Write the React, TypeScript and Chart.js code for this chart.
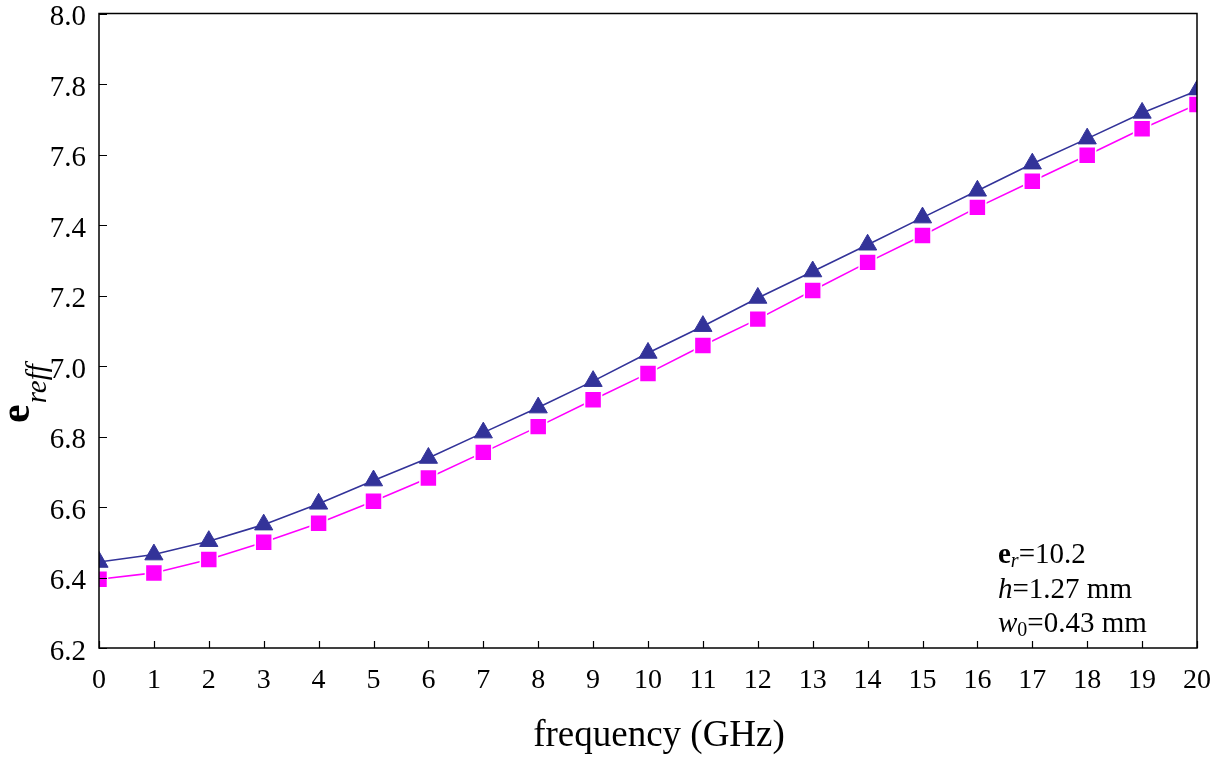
import React, { useEffect, useRef } from 'react';
import { Chart, registerables } from 'chart.js';

Chart.register(...registerables);

// ---- data ----
const frequencies = [0, 1, 2, 3, 4, 5, 6, 7, 8, 9, 10, 11, 12, 13, 14, 15, 16, 17, 18, 19, 20];
const triangleSeries = [
  6.444, 6.465, 6.503, 6.55, 6.609, 6.675, 6.739, 6.811, 6.882, 6.957, 7.037,
  7.113, 7.193, 7.268, 7.344, 7.421, 7.497, 7.574, 7.645, 7.718, 7.781,
];
const squareSeries = [
  6.395, 6.413, 6.451, 6.5, 6.554, 6.616, 6.682, 6.755, 6.828, 6.904, 6.979,
  7.058, 7.133, 7.214, 7.294, 7.37, 7.45, 7.524, 7.598, 7.673, 7.742,
];
const yMin = 6.2;
const yMax = 8.0;
const yStep = 0.2;
const xMin = 0;
const xMax = 20;
const xStep = 1;
const xTitle = 'frequency (GHz)';
const annotationLines = ['=10.2', '=1.27 mm', '=0.43 mm'];

const SERIF = '"Liberation Serif", "Times New Roman", serif';

const decorPlugin = {
  id: 'decor',
  afterDraw(chart: any) {
    const ctx = chart.ctx as CanvasRenderingContext2D;
    const area = chart.chartArea;
    const xs = chart.scales.x;
    const ys = chart.scales.y;
    ctx.save();
    // box
    ctx.strokeStyle = '#000';
    ctx.lineWidth = 1.5;
    ctx.strokeRect(area.left, area.top, area.right - area.left, area.bottom - area.top);
    // inward ticks
    ctx.lineWidth = 1.2;
    ctx.beginPath();
    ys.ticks.forEach((t: any) => {
      const y = Math.round(ys.getPixelForValue(t.value)) + 0.5;
      ctx.moveTo(area.left, y);
      ctx.lineTo(area.left + 8, y);
    });
    xs.ticks.forEach((t: any) => {
      const x = Math.round(xs.getPixelForValue(t.value)) + 0.5;
      ctx.moveTo(x, area.bottom);
      ctx.lineTo(x, area.bottom - 7);
    });
    ctx.stroke();

    ctx.fillStyle = '#000';
    ctx.textBaseline = 'alphabetic';
    // x title
    ctx.font = `37px ${SERIF}`;
    ctx.textAlign = 'center';
    ctx.fillText(xTitle, 659, 746);

    // y title (rotated)
    ctx.save();
    ctx.translate(29, 423);
    ctx.rotate(-Math.PI / 2);
    ctx.textAlign = 'left';
    ctx.font = `bold 42px ${SERIF}`;
    ctx.fillText('e', 0, 0);
    const ew = ctx.measureText('e').width;
    ctx.font = `italic 29px ${SERIF}`;
    ctx.fillText('reff', ew + 1, 17);
    ctx.restore();

    // annotation
    ctx.textAlign = 'left';
    let x = 998;
    ctx.font = `bold 29px ${SERIF}`;
    ctx.fillText('e', x, 563);
    x += ctx.measureText('e').width;
    ctx.font = `italic 20px ${SERIF}`;
    ctx.fillText('r', x, 567);
    x += ctx.measureText('r').width;
    ctx.font = `29px ${SERIF}`;
    ctx.fillText(annotationLines[0], x, 563);

    x = 998;
    ctx.font = `italic 29px ${SERIF}`;
    ctx.fillText('h', x, 598);
    x += ctx.measureText('h').width;
    ctx.font = `29px ${SERIF}`;
    ctx.fillText(annotationLines[1], x, 598);

    x = 998;
    ctx.font = `italic 29px ${SERIF}`;
    ctx.fillText('w', x, 632);
    x += ctx.measureText('w').width;
    ctx.font = `20px ${SERIF}`;
    ctx.fillText('0', x, 636);
    x += ctx.measureText('0').width;
    ctx.font = `29px ${SERIF}`;
    ctx.fillText(annotationLines[2], x, 632);

    ctx.restore();
  },
};

export default function App() {
  const canvasRef = useRef<HTMLCanvasElement | null>(null);

  useEffect(() => {
    const canvas = canvasRef.current;
    if (!canvas) return;
    const squarePts = frequencies.map((f, i) => ({ x: f, y: squareSeries[i] }));
    const trianglePts = frequencies.map((f, i) => ({ x: f, y: triangleSeries[i] }));
    const chart = new Chart(canvas, {
      type: 'line',
      data: {
        datasets: [
          {
            label: 'squares',
            data: squarePts,
            borderColor: '#FF00FF',
            backgroundColor: '#FF00FF',
            borderWidth: 1.6,
            pointStyle: 'rect',
            pointRadius: 12,
            pointBackgroundColor: '#FF00FF',
            pointBorderColor: '#FFFFFF',
            pointBorderWidth: 1.5,
            tension: 0,
          },
          {
            label: 'triangles',
            data: trianglePts,
            borderColor: '#333399',
            backgroundColor: '#333399',
            borderWidth: 1.6,
            pointStyle: 'triangle',
            pointRadius: 10.5,
            pointBackgroundColor: '#333399',
            pointBorderColor: '#333399',
            pointBorderWidth: 1,
            tension: 0,
          },
        ],
      },
      options: {
        responsive: false,
        animation: false,
        devicePixelRatio: 1,
        events: [],
        layout: { padding: { left: 0, top: 11, right: 32, bottom: 0 } },
        plugins: {
          legend: { display: false },
          tooltip: { enabled: false },
          title: { display: false },
        },
        scales: {
          x: {
            type: 'linear',
            min: xMin,
            max: xMax,
            grid: { display: false, drawTicks: false },
            border: { display: false },
            ticks: {
              stepSize: xStep,
              color: '#000',
              padding: 16,
              maxRotation: 0,
              autoSkip: false,
              font: { family: SERIF, size: 28 },
              callback: (v: any) => String(v),
            },
            afterFit: (scale: any) => {
              scale.height = 113;
              scale.paddingLeft = 0;
              scale.paddingRight = 0;
            },
          },
          y: {
            type: 'linear',
            min: yMin,
            max: yMax,
            grid: { display: false, drawTicks: false },
            border: { display: false },
            ticks: {
              stepSize: yStep,
              color: '#000',
              padding: 13,
              labelOffset: 4,
              font: { family: SERIF, size: 29 },
              callback: (v: any) => Number(v).toFixed(1),
            },
            afterFit: (scale: any) => {
              scale.width = 99;
              scale.paddingTop = 0;
              scale.paddingBottom = 0;
            },
          },
        },
      },
      plugins: [decorPlugin],
    });
    return () => chart.destroy();
  }, []);

  return (
    <div style={{ position: 'fixed', left: 0, top: 0, width: 1229, height: 761, background: '#fff' }}>
      <canvas ref={canvasRef} width={1229} height={761} />
    </div>
  );
}
